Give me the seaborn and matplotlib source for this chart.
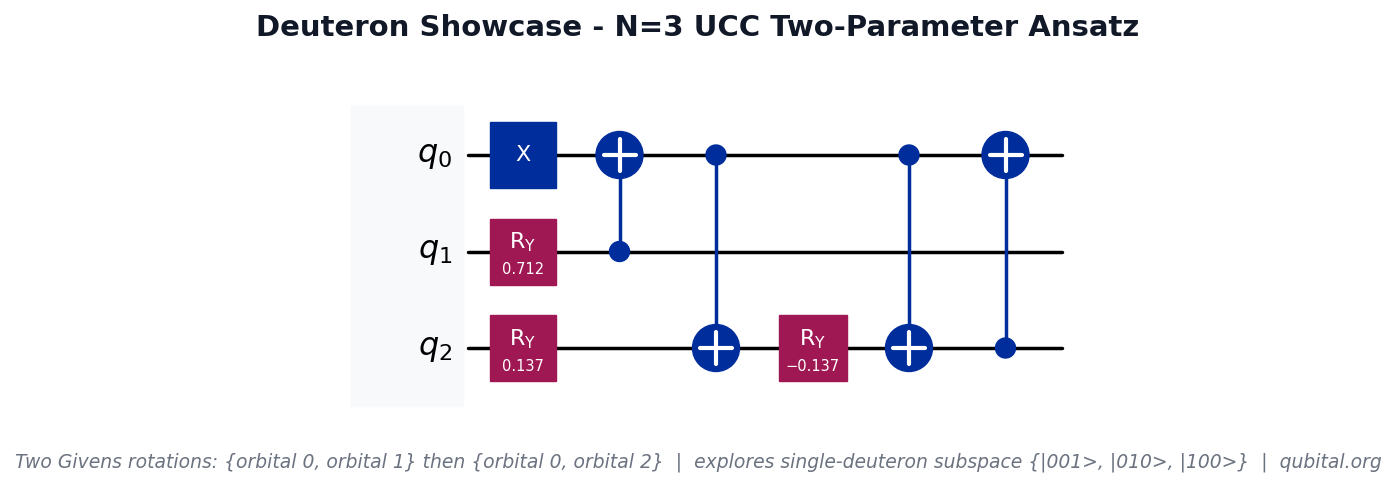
import matplotlib
matplotlib.use("Agg")
import matplotlib.pyplot as plt
import seaborn as sns
from matplotlib.patches import Rectangle, Circle

sns.set_style("white")
plt.rcParams['font.family'] = ['DejaVu Sans']

qubits = ["q_0", "q_1", "q_2"]
# single-qubit gates: (column, qubit, name, parameter)
single_gates = [(0, 0, "X", None), (0, 1, "RY", "0.712"), (0, 2, "RY", "0.137"),
                (3, 2, "RY", "\u22120.137")]
# cnots: (column, control, target)
cnots = [(1, 1, 0), (2, 0, 2), (4, 0, 2), (5, 2, 0)]

BLUE = "#002d9c"
MAG = "#9f1853"
x0, dx = 523, 96.5
y0, dy = 155, 96.5

fig = plt.figure(figsize=(13.96, 4.86), dpi=100)
ax = fig.add_axes([0, 0, 1, 1])
ax.set_xlim(0, 1396)
ax.set_ylim(486, 0)
ax.axis("off")

ax.add_patch(Rectangle((351, 106), 112, 300, color="#f8f9fb", zorder=0))

for i, q in enumerate(qubits):
    y = y0 + i * dy
    sns.lineplot(x=[468, 1062], y=[y, y], color="black", linewidth=2.5, ax=ax, zorder=1)
    ax.text(452, y, f"${q}$", fontsize=23, ha="right", va="center", color="black")

for col, q, name, par in single_gates:
    cx, cy = x0 + col * dx, y0 + q * dy
    w = 66 if par != "\u22120.137" else 68
    ax.add_patch(Rectangle((cx - w / 2, cy - 33), w, 66, color=BLUE if name == "X" else MAG, zorder=3))
    if par is None:
        ax.text(cx, cy, name, color="white", fontsize=16, ha="center", va="center", zorder=4)
    else:
        ax.text(cx, cy - 9, r"$\mathrm{R}_\mathrm{Y}$", color="white", fontsize=16, ha="center", va="center", zorder=4)
        ax.text(cx, cy + 18, par, color="white", fontsize=10.5, ha="center", va="center", zorder=4)

for col, c, t in cnots:
    cx = x0 + col * dx
    yc, yt = y0 + c * dy, y0 + t * dy
    ax.plot([cx, cx], [yc, yt], color=BLUE, linewidth=2.5, zorder=2)
    ax.add_patch(Circle((cx, yc), 10, color=BLUE, zorder=3))
    ax.add_patch(Circle((cx, yt), 23.5, color=BLUE, zorder=3))
    ax.plot([cx - 16, cx + 16], [yt, yt], color="white", linewidth=3, zorder=4)
    ax.plot([cx, cx], [yt - 16, yt + 16], color="white", linewidth=3, zorder=4)

ax.text(698, 28, "Deuteron Showcase - N=3 UCC Two-Parameter Ansatz", fontsize=21,
        fontweight="bold", color="#111827", ha="center", va="center")
ax.text(698, 462, "Two Givens rotations: {orbital 0, orbital 1} then {orbital 0, orbital 2}  |  "
        "explores single-deuteron subspace {|001>, |010>, |100>}  |  qubital.org",
        fontsize=13.5, style="italic", color="#6b7280", ha="center", va="center")

fig.savefig("out.png", dpi=100)
